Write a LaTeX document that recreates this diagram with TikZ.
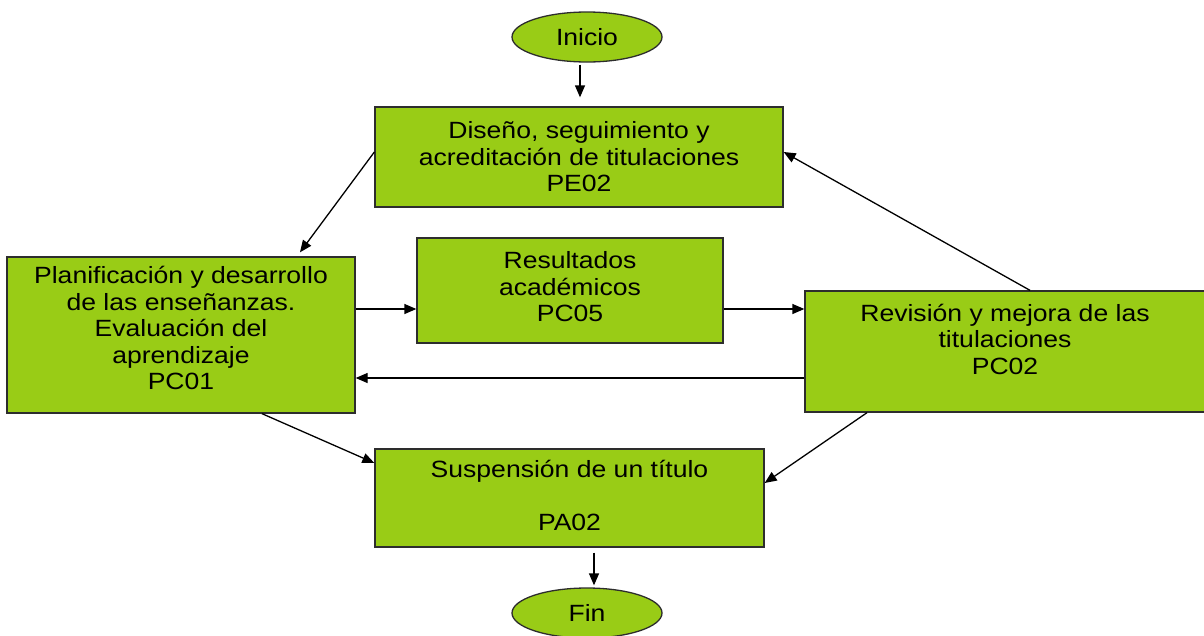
\documentclass[tikz,border=0pt]{standalone}
\usepackage{fontspec}
\setmainfont{Liberation Sans}[FakeStretch=1.13]
\usetikzlibrary{shapes.geometric,arrows.meta}
\definecolor{boxgreen}{RGB}{153,204,22}
\definecolor{edge}{RGB}{45,45,45}
\tikzset{
  box/.style={draw=edge,line width=1.3pt,fill=boxgreen,rectangle,inner sep=0pt,align=center,font=\fontsize{23.5}{26.5}\selectfont},
  term/.style={draw=edge,line width=1.3pt,fill=boxgreen,ellipse,inner sep=0pt,minimum width=150pt,minimum height=50pt,font=\fontsize{23.5}{26.5}\selectfont},
  arr/.style={draw=black,line width=1.3pt,-{Triangle[length=12pt,width=10pt]}},
  txt/.style={align=center,inner sep=0pt,font=\fontsize{23.5}{26.5}\selectfont}
}
\begin{document}
\begin{tikzpicture}[x=1pt,y=-1pt]
\useasboundingbox (0,0) rectangle (1204,635);
\node[term] (inicio) at (587,37) {Inicio};
\node[box,minimum width=408pt,minimum height=100pt] (pe02) at (579,157) {Diseño, seguimiento y\\acreditación de titulaciones\\PE02};
\node[box,minimum width=348pt,minimum height=156pt] (pc01) at (181,335) {};
\node[txt] (pc01t) at (181,328) {Planificación y desarrollo\\de las enseñanzas.\\Evaluación del\\aprendizaje\\PC01};
\node[box,minimum width=306pt,minimum height=105pt] (pc05) at (570,290.5) {};
\node[txt] (pc05t) at (570,287) {Resultados\\académicos\\PC05};
\node[box,minimum width=405pt,minimum height=121pt] (pc02) at (1007.5,351.5) {};
\node[txt] (pc02t) at (1005,339) {Revisión y mejora de las\\titulaciones\\PC02};
\node[box,minimum width=389pt,minimum height=98pt] (pa02) at (569.5,498) {};
\node[txt] (pa02t) at (569.5,495.5) {Suspensión de un título\\[26.5pt]PA02};
\node[term] (fin) at (587,613) {Fin};
\coordinate (r1) at (0,309);
\coordinate (r2) at (0,378);
\draw[arr,shorten <=2pt,shorten >=9pt] ([xshift=-7pt]inicio.south) -- ([xshift=-7pt]inicio.south |- pe02.north);
\draw[arr,shorten >=5pt] ([yshift=5pt]pe02.west) -- ([xshift=116pt]pc01.north);
\draw[arr] (pc01.east |- r1) -- (pc05.west |- r1);
\draw[arr] (pc05.east |- r1) -- (pc02.west |- r1);
\draw[arr] (pc02.west |- r2) -- (pc01.east |- r2);
\draw[arr] ([xshift=22.5pt]pc02.north) -- ([yshift=5pt]pe02.east);
\draw[arr] ([xshift=81pt]pc01.south) -- ([yshift=35pt]pa02.west);
\draw[arr] ([xshift=-140.5pt]pc02.south) -- ([yshift=15pt]pa02.east);
\draw[arr,shorten <=5pt,shorten >=2pt] ([xshift=7pt]fin.north |- pa02.south) -- ([xshift=7pt]fin.north);
\end{tikzpicture}
\end{document}
